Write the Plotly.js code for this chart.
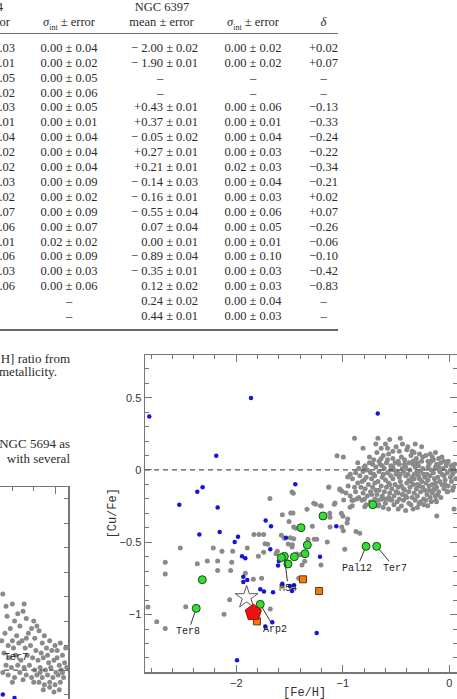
<!DOCTYPE html>
<html><head><meta charset="utf-8">
<script src="https://cdn.plot.ly/plotly-3.0.1.min.js"></script>
<style>
html,body{margin:0;padding:0;width:457px;height:699px;overflow:hidden;background:#fff;}
.t{position:absolute;font-family:"Liberation Serif","Times New Roman",serif;font-size:12.5px;color:#2b2b2b;line-height:15px;white-space:nowrap;}
.rule{position:absolute;height:1.5px;background:#6a6a6a;}
#right{position:absolute;left:0;top:330px;width:520px;height:380px;}
#left{position:absolute;left:-290px;top:470px;width:400px;height:320px;}
</style></head><body>
<div id="left"></div>
<div id="right"></div>
<div id="txt"></div>
<script>
// ---------- table data ----------
const headTop = ["4", "NGC 6397"];
const headCols = ["or", "<i>σ</i><sub style='font-size:8px'>int</sub> ± error", "mean ± error", "<i>σ</i><sub style='font-size:8px'>int</sub> ± error", "<i>δ</i>"];
const colA = [".03",".01",".05",".02",".03",".01",".04",".02",".02",".03",".02",".07",".06",".01",".06",".03",".06","",""];
const colB = ["0.00 ± 0.04","0.00 ± 0.02","0.00 ± 0.05","0.00 ± 0.06","0.00 ± 0.05","0.00 ± 0.01","0.00 ± 0.04","0.00 ± 0.04","0.00 ± 0.04","0.00 ± 0.09","0.00 ± 0.02","0.00 ± 0.09","0.00 ± 0.07","0.02 ± 0.02","0.00 ± 0.09","0.00 ± 0.03","0.00 ± 0.06","–","–"];
const colC = ["− 2.00 ± 0.02","− 1.90 ± 0.01","–","–","+0.43 ± 0.01","+0.37 ± 0.01","− 0.05 ± 0.02","+0.27 ± 0.01","+0.21 ± 0.01","− 0.14 ± 0.03","− 0.16 ± 0.01","− 0.55 ± 0.04","0.07 ± 0.04","0.00 ± 0.01","− 0.89 ± 0.04","− 0.35 ± 0.01","0.12 ± 0.02","0.24 ± 0.02","0.44 ± 0.01"];
const colD = ["0.00 ± 0.02","0.00 ± 0.02","–","–","0.00 ± 0.06","0.00 ± 0.01","0.00 ± 0.04","0.00 ± 0.03","0.02 ± 0.03","0.00 ± 0.04","0.00 ± 0.03","0.00 ± 0.06","0.00 ± 0.05","0.00 ± 0.01","0.00 ± 0.10","0.00 ± 0.03","0.00 ± 0.03","0.00 ± 0.04","0.00 ± 0.03"];
const colE = ["+0.02","+0.07","–","–","−0.13","−0.33","−0.24","−0.22","−0.34","−0.21","+0.02","+0.07","−0.26","−0.06","−0.10","−0.42","−0.83","–","–"];
const bodyLines = ["H] ratio from", "metallicity.", "NGC 5694 as", "with several"];

// ---------- right chart data ([Fe/H], [Cu/Fe]) ----------
const fieldScatter = [[-2.829,-0.947],[-2.747,-1.049],[-2.667,-1.097],[-2.667,-0.638],[-2.667,-0.719],[-2.526,-0.539],[-2.475,-0.945],[-2.366,-0.648],[-2.272,-0.629],[-2.216,-0.539],[-2.175,-0.629],[-2.175,-0.696],[-2.134,-0.562],[-2.053,-0.696],[-2.043,-0.638],[-2.034,-0.562],[-2.115,-0.998],[-2.062,-0.897],[-1.897,-0.539],[-1.915,-0.715],[-1.84,-0.756],[-1.793,-0.597],[-1.834,-0.447],[-1.787,-0.447],[-1.743,-0.447],[-1.743,-0.569],[-1.73,-0.51],[-1.705,-0.514],[-1.684,-0.198],[-1.762,-0.749],[-1.681,-0.961],[-1.568,-0.309],[-1.489,-0.297],[-1.468,-0.297],[-1.505,-0.357],[-1.461,-0.394],[-1.442,-0.403],[-1.577,-0.452],[-1.549,-0.472],[-1.493,-0.468],[-1.461,-0.475],[-1.512,-0.512],[-1.474,-0.517],[-1.615,-0.562],[-1.627,-0.579],[-1.433,-0.581],[-1.399,-0.586],[-1.477,-0.532],[-1.383,-0.657],[-1.358,-0.632],[-1.414,-0.749],[-1.336,-0.272],[-1.327,-0.479],[-1.286,-0.389],[-1.268,-0.479],[-1.245,-0.479],[-1.273,-0.23],[-1.208,-0.247],[-1.205,-0.657],[-1.146,-0.498],[-1.132,-0.12],[-1.123,-0.3],[-1.12,-0.327],[-1.12,-0.394],[-1.08,-0.237],[-1.029,-0.131],[-1.014,-0.3],[-0.998,-0.32],[-1.01,-0.394],[-0.995,-0.42],[-0.982,-0.548],[-0.96,-0.367],[-0.954,-0.339],[-0.932,-0.258],[-0.914,-0.21],[-0.876,-0.426],[-0.841,-0.438],[-0.794,-0.254],[-0.667,-0.249],[-0.569,-0.203],[-0.118,-0.318],[0.044,-0.27],[-1.477,-0.152],[-1.465,-0.161],[-1.054,0.099],[-0.995,0.09],[-0.954,-0.048],[-1.132,-0.118],[-1.026,-0.136],[-1.007,-0.147],[-1.255,-0.237],[-1.202,-0.249],[-1.073,-0.228],[-0.992,-0.207],[-0.911,-0.247],[-0.87,-0.201],[-0.798,-0.203],[-0.641,-0.203],[-0.557,-0.203],[-0.284,-0.233],[-0.203,-0.247],[-0.128,-0.21],[-0.015,-0.15],[0.032,0.032],[-0.024,0.046]];
const fieldCluster = [[-0.89,0.22],[-0.67,0.22],[-0.56,0.21],[-0.46,0.22],[-0.81,0.15],[-0.50,0.16],[-0.44,0.18],[-0.47,0.13],[-0.40,0.14],[-0.33,0.12],[-0.62,0.10],[-0.57,0.11],[-0.45,0.09],[-0.36,0.10],[-0.28,0.11],[-0.22,0.10],[-0.15,0.07],[-0.10,0.08],[-0.05,0.06],
[-0.71,0.07],[-0.53,0.08],[-0.42,0.07],[-0.31,0.08],[-0.20,0.06],[-0.16,0.09],[-0.75,0.05],[-0.66,0.06],[-0.59,0.05],[-0.48,0.06],[-0.38,0.05],[-0.26,0.06],[-0.12,0.04],[-0.08,0.05],[0.02,0.03],
[-0.79,0.03],[-0.72,0.04],[-0.63,0.03],[-0.55,0.03],[-0.47,0.04],[-0.41,0.02],[-0.34,0.04],[-0.29,0.03],[-0.19,0.04],[-0.10,0.02],[-0.03,0.03],[0.04,0.01],
[-0.85,0.01],[-0.77,0.00],[-0.69,0.02],[-0.61,0.01],[-0.52,0.00],[-0.44,0.01],[-0.37,0.00],[-0.32,0.02],[-0.25,0.01],[-0.17,0.00],[-0.13,0.02],[-0.06,0.01],[0.01,0.00],[0.05,-0.01],
[-0.88,-0.02],[-0.81,-0.01],[-0.74,-0.02],[-0.66,-0.01],[-0.58,-0.02],[-0.50,-0.03],[-0.43,-0.01],[-0.39,-0.03],[-0.31,-0.02],[-0.27,-0.01],[-0.21,-0.03],[-0.15,-0.02],[-0.09,-0.01],[-0.02,-0.02],[0.03,-0.03],
[-0.84,-0.04],[-0.78,-0.05],[-0.70,-0.04],[-0.63,-0.05],[-0.55,-0.04],[-0.47,-0.05],[-0.41,-0.04],[-0.35,-0.05],[-0.29,-0.04],[-0.23,-0.05],[-0.18,-0.04],[-0.11,-0.05],[-0.05,-0.04],[0.01,-0.05],
[-0.91,-0.06],[-0.80,-0.07],[-0.73,-0.06],[-0.67,-0.08],[-0.60,-0.07],[-0.53,-0.06],[-0.46,-0.08],[-0.38,-0.07],[-0.33,-0.06],[-0.26,-0.08],[-0.20,-0.07],[-0.14,-0.06],[-0.09,-0.08],[-0.04,-0.07],[0.02,-0.08],
[-0.86,-0.09],[-0.76,-0.10],[-0.70,-0.09],[-0.64,-0.11],[-0.57,-0.09],[-0.51,-0.10],[-0.45,-0.11],[-0.40,-0.09],[-0.34,-0.10],[-0.28,-0.11],[-0.22,-0.09],[-0.16,-0.10],[-0.12,-0.12],[-0.07,-0.10],[-0.01,-0.11],
[-0.95,-0.11],[-0.83,-0.12],[-0.79,-0.13],[-0.72,-0.12],[-0.66,-0.14],[-0.59,-0.12],[-0.54,-0.13],[-0.48,-0.12],[-0.42,-0.14],[-0.37,-0.12],[-0.31,-0.13],[-0.25,-0.12],[-0.19,-0.14],[-0.14,-0.13],[-0.10,-0.15],[-0.05,-0.13],
[-0.88,-0.15],[-0.81,-0.16],[-0.74,-0.15],[-0.68,-0.17],[-0.61,-0.15],[-0.56,-0.16],[-0.50,-0.15],[-0.44,-0.17],[-0.38,-0.15],[-0.33,-0.16],[-0.27,-0.15],[-0.21,-0.17],[-0.16,-0.16],[-0.11,-0.17],
[-0.93,-0.18],[-0.85,-0.19],[-0.77,-0.18],[-0.70,-0.20],[-0.63,-0.18],[-0.57,-0.19],[-0.52,-0.18],[-0.47,-0.20],[-0.41,-0.18],[-0.35,-0.19],[-0.30,-0.18],[-0.24,-0.20],[-0.18,-0.19],[-0.13,-0.18],
[-0.82,-0.21],[-0.74,-0.22],[-0.67,-0.21],[-0.60,-0.23],[-0.54,-0.21],[-0.49,-0.22],[-0.43,-0.21],[-0.38,-0.23],[-0.32,-0.21],[-0.27,-0.22],[-0.22,-0.21],
[-0.72,-0.25],[-0.62,-0.26],[-0.52,-0.24],[-0.45,-0.25],[-0.36,-0.24],[-0.30,-0.26],[-0.41,-0.28],
[-0.62,-0.03],[-0.49,-0.01],[-0.36,-0.08],[-0.24,-0.03],[-0.56,-0.10],[-0.43,-0.13],[-0.30,-0.10],[-0.19,-0.11],[-0.65,0.04],[-0.51,0.05],[-0.34,0.06],[-0.28,-0.06],[-0.48,-0.16],[-0.40,-0.19],[-0.53,0.02],[-0.07,-0.03],[-0.13,-0.09],[-0.71,-0.03],[-0.58,0.07],[-0.20,0.02],
[-0.86,0.05],[-0.82,-0.08],[-0.75,0.09],[-0.68,0.12],[-0.64,0.15],[-0.60,0.18],[-0.53,0.13],[-0.39,0.16],[-0.35,0.13],[-0.25,0.09],[-0.18,0.11],[-0.07,0.09],[-0.01,0.06],[0.05,0.04],[-0.89,-0.12],[-0.93,-0.03],[-0.97,-0.16],[-0.90,-0.21],[-0.78,-0.24],[-0.66,-0.24],[-0.57,-0.27],[-0.48,-0.27],[-0.34,-0.27],[-0.24,-0.24],[-0.17,-0.22],[-0.08,-0.19],[-0.02,-0.15],[0.04,-0.12],[0.06,-0.06],[-0.69,-0.14],[-0.61,-0.20],[-0.55,0.00],[-0.46,-0.03],[-0.33,-0.03],[-0.23,-0.14],[-0.15,-0.14],[-0.42,0.04],[-0.30,0.05],[-0.17,0.06],[-0.80,0.02],[-0.73,-0.17],[-0.64,0.08],[-0.26,0.16],[-0.13,0.12],[-0.32,0.18],[-0.58,0.15],[-0.69,0.18],[-0.12,-0.22],[-0.04,-0.10],[0.03,-0.14]];
const dwarfStars = [[-2.817,0.369],[-1.862,0.498],[-2.188,0.099],[-0.672,0.39],[-2.316,-0.12],[-1.446,-0.099],[-2.535,-0.24],[-2.366,-0.15],[-2.175,-0.26],[-2.347,-0.447],[-2.156,-0.429],[-1.984,-0.461],[-2.015,-0.498],[-1.724,-0.35],[-1.674,-0.39],[-1.533,-0.468],[-1.061,-0.39],[-1.946,-0.597],[-1.915,-0.611],[-1.681,-0.548],[-1.600,-0.630],[-1.608,-0.660],[-1.214,-0.60],[-1.934,-0.738],[-1.897,-0.761],[-1.934,-0.775],[-1.568,-0.786],[-1.496,-0.802],[-1.458,-0.797],[-1.775,-0.825],[-1.74,-0.841],[-1.655,-0.846],[-1.477,-0.837],[-1.728,-1.083],[-1.662,-1.053],[-1.245,-1.127],[-1.993,-1.316]];
const clusters = [[-0.719,-0.24],[-1.186,-0.318],[-1.392,-0.399],[-1.333,-0.519],[-1.355,-0.579],[-1.455,-0.6],[-1.549,-0.597],[-1.577,-0.606],[-1.515,-0.65],[-2.319,-0.759],[-2.376,-0.957],[-1.775,-0.929],[-0.782,-0.528],[-0.682,-0.528]];
const squares = [[-1.374,-0.756],[-1.223,-0.837],[-1.806,-1.047]];
const starPoint = [[-1.903,-0.881]];
const thisCluster = [[-1.84,-0.987]];
const labelNames = ["Ter8","Arp2","M54","Pal12","Ter7"];
const labelPoint = [[-2.376,-0.957],[-1.775,-0.929],[-1.549,-0.597],[-0.782,-0.528],[-0.682,-0.528]];
const labelText = [[-2.451,-1.118],[-1.637,-1.100],[-1.512,-0.818],[-0.869,-0.680],[-0.510,-0.680]];

// ---------- left (partial) chart data ----------
const leftField = [[-0.49,0.31],[-0.40,0.27],[-0.45,0.22],[-0.38,0.20],[-0.30,0.24],[-0.33,0.18],[-0.27,0.21],[-0.22,0.17],[-0.47,0.15],[-0.42,0.17],[-0.36,0.14],[-0.31,0.12],[-0.25,0.15],[-0.19,0.13],[-0.15,0.16],[-0.12,0.11],[-0.50,0.12],[-0.44,0.10],[-0.39,0.09],[-0.34,0.11],[-0.28,0.09],[-0.23,0.10],[-0.18,0.08],[-0.13,0.07],[-0.08,0.09],[-0.03,0.08],[0.02,0.05],[0.07,0.06],[0.10,0.09],[-0.48,0.07],[-0.43,0.05],[-0.37,0.06],[-0.32,0.04],[-0.26,0.06],[-0.21,0.05],[-0.16,0.04],[-0.11,0.05],[-0.06,0.03],[-0.01,0.04],[0.04,0.02],[0.09,0.03],[-0.46,0.02],[-0.41,0.01],[-0.35,0.02],[-0.29,0.01],[-0.24,0.02],[-0.19,0.00],[-0.14,0.01],[-0.09,0.00],[-0.04,0.01],[0.01,-0.01],[0.06,0.00],[0.11,0.01],[-0.49,-0.01],[-0.44,-0.02],[-0.38,-0.03],[-0.33,-0.01],[-0.27,-0.02],[-0.22,-0.03],[-0.17,-0.02],[-0.12,-0.03],[-0.07,-0.02],[-0.02,-0.03],[0.03,-0.02],[0.08,-0.03],[-0.40,-0.05],[-0.30,-0.04],[-0.20,-0.05],[-0.15,-0.05],[-0.10,-0.06],[-0.05,-0.05],[0.00,-0.06],[0.05,-0.05],[-0.11,-0.08],[-0.05,-0.07],[-0.01,-0.09],[0.04,-0.08],[-0.29,0.27],[-0.20,0.20],[-0.10,0.14],[-0.05,0.12],[0.00,0.10],[0.05,0.11],[-0.35,0.23],[-0.46,0.26],[-0.17,0.18],[-0.07,0.06],[-0.40,0.12],[-0.27,0.13],[0.02,0.08],[-0.14,-0.01],[0.07,-0.01]];
const leftDwarf = [[-0.49,-0.10],[-0.38,-0.114]];
const leftLabel = ["Ter7"];
const leftLabelPos = [[-0.363,0.053]];

// ---------- build text ----------
const txt = document.getElementById('txt');
function put(html, x, y, align, size){
  const d = document.createElement('div'); d.className='t'; d.innerHTML = html;
  if (size) d.style.fontSize = size+'px';
  d.style.top = (y-7.5)+'px';
  if (align==='right'){ d.style.right = (457-x)+'px'; }
  else if (align==='center'){ d.style.left = (x-100)+'px'; d.style.width='200px'; d.style.textAlign='center'; }
  else { d.style.left = x+'px'; }
  txt.appendChild(d);
}
function rule(y){ const r=document.createElement('div'); r.className='rule'; r.style.left='0px'; r.style.width='338px'; r.style.top=(y-0.75)+'px'; txt.appendChild(r); }
put(headTop[0], 3, 7, 'right');
put(headTop[1], 162, 7, 'center');
put(headCols[0], 10, 22, 'right');
put(headCols[1], 69, 22, 'center');
put(headCols[2], 161.5, 22, 'center');
put(headCols[3], 253, 22, 'center');
put(headCols[4], 323.5, 22, 'center');
rule(33.5);
for (let i=0;i<colA.length;i++){
  const y = 48.3 + i*14.9;
  put(colA[i], 15, y, 'right');
  put(colB[i], 69, y, 'center');
  if (colC[i]==='–') put(colC[i], 160, y, 'center'); else put(colC[i], 198, y, 'right');
  put(colD[i], 253, y, 'center');
  put(colE[i], 323.5, y, 'center');
}
rule(330);
put(bodyLines[0], 70, 358, 'right', 13);
put(bodyLines[1], -1, 371.5, 'left', 13);
put(bodyLines[2], 70, 443, 'right', 13);
put(bodyLines[3], 70, 458, 'right', 13);

// ---------- right chart ----------
const xs = a => a.map(p=>p[0]), ys = a => a.map(p=>p[1]);
const field = fieldScatter.concat(fieldCluster);
const frame = '#777';
const tickFont = {family:'Liberation Sans, Arial, sans-serif', size:11, color:'#333'};
const traces = [
  {x:xs(field), y:ys(field), mode:'markers', type:'scatter', marker:{size:5, color:'#8a8a8a'}},
  {x:xs(dwarfStars), y:ys(dwarfStars), mode:'markers', type:'scatter', marker:{size:4.5, color:'#1414dc'}},
  {x:xs(clusters), y:ys(clusters), mode:'markers', type:'scatter', marker:{size:8, color:'#33dd33', line:{color:'#1f4a1f', width:1}}},
  {x:xs(squares), y:ys(squares), mode:'markers', type:'scatter', marker:{symbol:'square', size:7, color:'#f07c10', line:{color:'#6b3a00', width:1}}},
  {x:xs(starPoint), y:ys(starPoint), mode:'markers', type:'scatter', marker:{symbol:'star', size:17, color:'#ffffff', line:{color:'#555', width:1}}},
  {x:xs(thisCluster), y:ys(thisCluster), mode:'markers', type:'scatter', marker:{symbol:'pentagon', size:17, color:'#ee1111', line:{color:'#b00000', width:1}}}
];
const ann = labelNames.map((n,i)=>({x:labelPoint[i][0], y:labelPoint[i][1], xref:'x', yref:'y', ax:labelText[i][0], ay:labelText[i][1], axref:'x', ayref:'y', text:n, showarrow:true, arrowhead:0, arrowwidth:1, arrowcolor:'#333', standoff:4, font:{family:'Liberation Mono, Courier New, monospace', size:10, color:'#222'}}));
ann.push({xref:'paper', yref:'paper', x:(112-145)/312, y:0.5, text:'[Cu/Fe]', textangle:-90, showarrow:false, xanchor:'center', yanchor:'middle', font:{family:'Liberation Mono, Courier New, monospace', size:12, color:'#333'}});
ann.push({xref:'paper', yref:'paper', x:(304-145)/312, y:-(693-672)/317, text:'[Fe/H]', showarrow:false, xanchor:'center', yanchor:'middle', font:{family:'Liberation Mono, Courier New, monospace', size:12, color:'#333'}});
const axisBase = {showline:true, linecolor:frame, linewidth:1.5, mirror:'ticks', ticks:'inside', tickcolor:frame, tickwidth:1, ticklen:7, showgrid:false, zeroline:false, tickfont:tickFont};
Plotly.newPlot('right', traces, {
  width:520, height:380, margin:{l:145, r:63, t:25, b:38},
  paper_bgcolor:'rgba(0,0,0,0)', plot_bgcolor:'#fff', showlegend:false,
  xaxis:Object.assign({}, axisBase, {range:[-2.857,0.072], dtick:1, tick0:0, minor:{ticks:'inside', dtick:0.2, ticklen:4, tickcolor:frame}}),
  yaxis:Object.assign({}, axisBase, {range:[-1.397,0.795], dtick:0.5, tick0:0, minor:{ticks:'inside', dtick:0.1, ticklen:4, tickcolor:frame}}),
  shapes:[{type:'line', xref:'paper', x0:0, x1:1, yref:'y', y0:0, y1:0, line:{color:'#555', width:1.3, dash:'5px,4px'}}],
  annotations:ann
}, {staticPlot:true, displayModeBar:false});

// ---------- left chart (partially visible) ----------
Plotly.newPlot('left', [
  {x:xs(leftField), y:ys(leftField), mode:'markers', type:'scatter', marker:{size:5, color:'#8a8a8a'}},
  {x:xs(leftDwarf), y:ys(leftDwarf), mode:'markers', type:'scatter', marker:{size:4.5, color:'#1414dc'}}
], {
  width:400, height:320, margin:{l:42, r:42, t:17, b:30},
  paper_bgcolor:'rgba(0,0,0,0)', plot_bgcolor:'#fff', showlegend:false,
  xaxis:Object.assign({}, axisBase, {range:[-2.845,0.122], dtick:1, tick0:0, showticklabels:false, minor:{ticks:'inside', dtick:0.2, ticklen:4, tickcolor:frame}}),
  yaxis:Object.assign({}, axisBase, {range:[-0.367,0.747], dtick:0.1, tick0:0, ticklen:4, showticklabels:false}),
  shapes:[{type:'line', xref:'paper', x0:0, x1:1, yref:'y', y0:0, y1:0, line:{color:'#555', width:1.3, dash:'5px,4px'}}],
  annotations:leftLabel.map((n,i)=>({x:leftLabelPos[i][0], y:leftLabelPos[i][1], xref:'x', yref:'y', text:n, showarrow:false, font:{family:'Liberation Mono, Courier New, monospace', size:10, color:'#222'}}))
}, {staticPlot:true, displayModeBar:false});
</script>
</body></html>
